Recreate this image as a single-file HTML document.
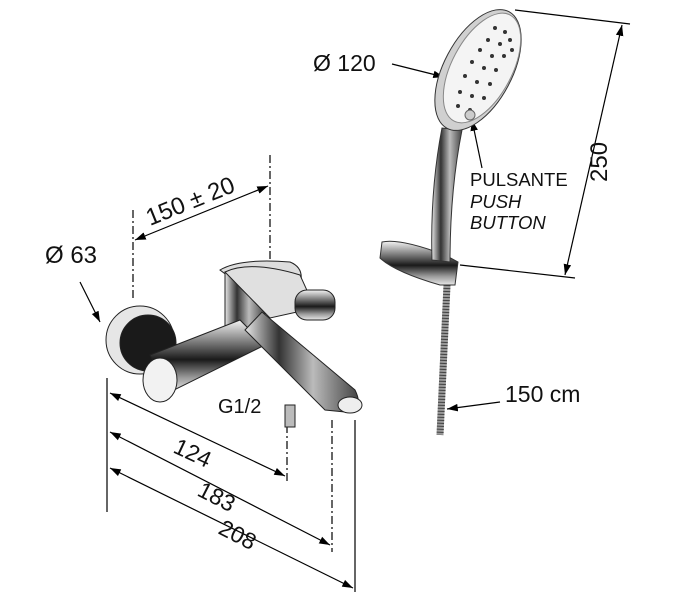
<!DOCTYPE html>
<html><head><style>
html,body{margin:0;padding:0;background:#fff;}
svg{display:block;}
text{font-family:"Liberation Sans",Arial,sans-serif;fill:#111;}
</style></head><body>
<svg width="697" height="614" viewBox="0 0 697 614" xmlns="http://www.w3.org/2000/svg">
<defs>
<marker id="a" viewBox="0 0 10 10" refX="10" refY="5" markerWidth="9" markerHeight="9" orient="auto-start-reverse"><path d="M0,1.5 L10,5 L0,8.5 z" fill="#000"/></marker>
<linearGradient id="chrome" x1="0" y1="0" x2="0" y2="1"><stop offset="0" stop-color="#f4f4f4"/><stop offset="0.35" stop-color="#6a6a6a"/><stop offset="0.55" stop-color="#1a1a1a"/><stop offset="0.8" stop-color="#9a9a9a"/><stop offset="1" stop-color="#e8e8e8"/></linearGradient>
<linearGradient id="chrome2" x1="0" y1="0" x2="1" y2="0"><stop offset="0" stop-color="#e8e8e8"/><stop offset="0.3" stop-color="#333"/><stop offset="0.6" stop-color="#bbb"/><stop offset="1" stop-color="#444"/></linearGradient>
</defs>
<g stroke="#000" stroke-width="1.2" fill="none">
<line x1="133" y1="210" x2="133" y2="300" stroke-dasharray="8,3,2,3"/>
<line x1="270" y1="155" x2="270" y2="262" stroke-dasharray="8,3,2,3"/>
<line x1="107" y1="378" x2="107" y2="512"/>
<line x1="287" y1="425" x2="287" y2="482" stroke-dasharray="8,3,2,3"/>
<line x1="332" y1="420" x2="332" y2="552" stroke-dasharray="8,3,2,3"/>
<line x1="355" y1="420" x2="355" y2="592"/>
<line x1="135" y1="240" x2="268" y2="186" marker-start="url(#a)" marker-end="url(#a)"/>
<line x1="110" y1="393" x2="285" y2="476" marker-start="url(#a)" marker-end="url(#a)"/>
<line x1="110" y1="432" x2="330" y2="545" marker-start="url(#a)" marker-end="url(#a)"/>
<line x1="110" y1="468" x2="353" y2="588" marker-start="url(#a)" marker-end="url(#a)"/>
<line x1="80" y1="282" x2="100" y2="322" marker-end="url(#a)"/>
<line x1="392" y1="64" x2="444" y2="77" marker-end="url(#a)"/>
<line x1="482" y1="168" x2="472" y2="120" marker-end="url(#a)"/>
<line x1="500" y1="402" x2="447" y2="409" marker-end="url(#a)"/>
<line x1="515" y1="10" x2="630" y2="24"/>
<line x1="460" y1="265" x2="575" y2="278"/>
<line x1="622" y1="25" x2="565" y2="275" marker-start="url(#a)" marker-end="url(#a)"/>
</g>
<g stroke="#222" stroke-width="1">
<path d="M220 270 Q240 258 290 262 Q305 268 300 285 L260 300 Z" fill="#ddd"/>
<rect x="225" y="272" width="40" height="60" fill="url(#chrome2)"/>
<path d="M225 272 Q250 260 300 275 L315 308 L270 318 Z" fill="#e0e0e0"/>
<rect x="295" y="290" width="40" height="30" rx="12" fill="url(#chrome)"/>
<circle cx="140" cy="340" r="34" fill="#e6e6e6"/>
<circle cx="148" cy="343" r="28" fill="#1a1a1a"/>
<path d="M150 355 L240 320 L265 345 L170 392 Z" fill="url(#chrome)"/>
<ellipse cx="160" cy="380" rx="17" ry="22" fill="#f2f2f2"/>
<path d="M245 330 L262 312 L355 390 Q365 410 345 412 L325 410 Z" fill="url(#chrome2)"/>
<rect x="285" y="405" width="10" height="22" fill="#bbb"/>
<ellipse cx="350" cy="405" rx="12" ry="8" fill="#eee"/>
</g>
<path d="M447 285 L440 435" stroke="#999" stroke-width="7" fill="none"/>
<path d="M447 285 L440 435" stroke="#444" stroke-width="7" stroke-dasharray="1,2" fill="none"/>
<path d="M382 242 Q400 238 445 255 L458 262 L455 285 L440 285 Q395 272 380 258 Z" fill="url(#chrome)" stroke="#333"/>
<path d="M442 128 Q430 190 432 260 L450 262 Q450 190 462 130 Z" fill="url(#chrome2)" stroke="#333"/>
<ellipse cx="478" cy="70" rx="34" ry="66" transform="rotate(28 478 70)" fill="#d0d0d0" stroke="#333"/>
<ellipse cx="482" cy="68" rx="30" ry="60" transform="rotate(28 482 68)" fill="#f4f4f4" stroke="#888"/>
<g fill="#333">
<circle cx="495" cy="28" r="2"/><circle cx="505" cy="32" r="2"/><circle cx="488" cy="40" r="2"/><circle cx="500" cy="44" r="2"/><circle cx="510" cy="40" r="2"/>
<circle cx="480" cy="50" r="2"/><circle cx="492" cy="56" r="2"/><circle cx="504" cy="56" r="2"/><circle cx="472" cy="62" r="2"/><circle cx="484" cy="68" r="2"/>
<circle cx="496" cy="70" r="2"/><circle cx="465" cy="76" r="2"/><circle cx="477" cy="82" r="2"/><circle cx="490" cy="84" r="2"/><circle cx="460" cy="92" r="2"/>
<circle cx="472" cy="96" r="2"/><circle cx="484" cy="98" r="2"/><circle cx="458" cy="106" r="2"/><circle cx="470" cy="110" r="2"/><circle cx="512" cy="50" r="2"/>
</g>
<circle cx="470" cy="115" r="5" fill="#ccc" stroke="#666"/>
<text x="313" y="71" font-size="23">Ø 120</text>
<text x="45" y="263" font-size="24">Ø 63</text>
<text x="470" y="186" font-size="18.5">PULSANTE</text>
<text x="470" y="208" font-size="18.5" font-style="italic">PUSH</text>
<text x="470" y="229" font-size="18.5" font-style="italic">BUTTON</text>
<text x="505" y="402" font-size="23">150 cm</text>
<text x="218" y="413" font-size="20">G1/2</text>
<text transform="translate(150 226) rotate(-22)" font-size="24">150 ± 20</text>
<text transform="translate(607 182) rotate(-90)" font-size="24">250</text>
<text transform="translate(172 452) rotate(25)" font-size="23">124</text>
<text transform="translate(196 495) rotate(27)" font-size="23">183</text>
<text transform="translate(217 533) rotate(27)" font-size="23">208</text>
</svg>
</body></html>
